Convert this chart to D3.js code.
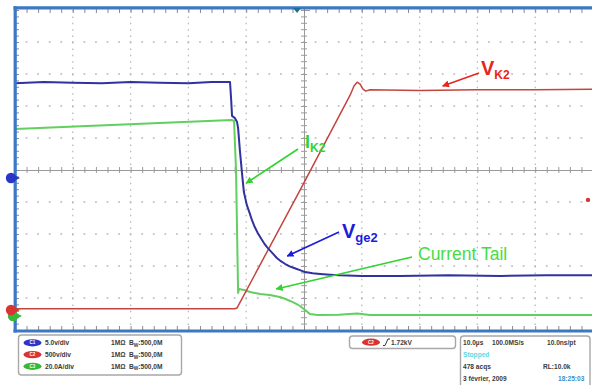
<!DOCTYPE html>
<html>
<head>
<meta charset="utf-8">
<script src="https://cdn.jsdelivr.net/npm/d3@7"></script>
<style>
  html, body { margin: 0; padding: 0; background: #fff; }
  svg { display: block; font-family: "Liberation Sans", Arial, sans-serif; }
</style>
</head>
<body>
<svg id="scope" width="592" height="385"></svg>
<script>
// ---- Acquisition: time in µs (10 µs/div), channel values in physical units ----
// CH1  gate voltage Vge2 (V)
const ch1Time  = [-50, -45, -40, -35, -30, -25, -20, -16, -12.8, -12.6, -12.45, -12.0, -11.6, -11.4, -11.1, -10.7, -10.4, -9.9, -9.4, -9.0, -8.5, -8.0, -7.4, -6.9, -6.4, -5.9, -5.3, -4.7, -4.0, -3.3, -2.5, -1.6, -0.7, 0.2, 1.5, 2.8, 4.5, 6.2, 10, 16.6, 25, 34, 42, 50];
const ch1Volts = [14.8, 15.0, 14.9, 14.8, 15.0, 14.9, 14.8, 15.0, 15.0, 12.2, 9.7, 9.4, 8.8, 7.8, 4.4, 0.5, -2.2, -4.2, -5.5, -6.6, -7.7, -8.6, -9.5, -10.2, -10.8, -11.3, -11.9, -12.5, -13.0, -13.4, -13.8, -14.1, -14.4, -14.7, -14.9, -15.0, -15.1, -15.2, -15.3, -15.3, -15.2, -15.3, -15.2, -15.2];

// CH2  collector voltage VK2 (kV)
const ch2Time = [-50, -30, -12, -11.6, -0.7, 8.0, 8.65, 9.2, 9.7, 10.2, 10.7, 11.4, 20, 30, 40, 50];
const ch2KV   = [0.02, 0.02, 0.02, 0.03, 1.87, 3.36, 3.50, 3.56, 3.53, 3.45, 3.42, 3.44, 3.43, 3.44, 3.44, 3.45];

// CH3  collector current IK2 (A)
const ch3Time = [-50, -12.5, -12.1, -11.76, -11.4, -11.25, -10.4, -9.3, -7.6, -5.9, -4.2, -3.3, -2.4, -1.5, -0.7, 0.2, 1.0, 2.4, 6, 9.2, 11.4, 30, 50];
const ch3Amps = [116.9, 122.5, 121.9, 91.3, 14.4, 16.9, 16.3, 15.0, 13.75, 13.1, 11.9, 10.8, 9.4, 7.9, 6.25, 3.75, 1.25, 0.6, 0.8, 1.6, 0.6, 0.6, 0.6];

// Vertical settings: units per division and ground offset in divisions
const channelNames   = ["C1", "C2", "C3"];
const channelScales  = [5.0, 0.5, 20.0];          // V/div, kV/div, A/div
const channelOffsets = [-0.25, -4.375, -4.5625];  // ground position (div)
const channelLabels  = ["5.0v/div", "500v/div", "20.0A/div"];
const channelInput   = "1MΩ";
const channelBw      = "500,0M";

// Trigger
const triggerTime  = -1.2;   // µs
const triggerLevel = 1.72;   // kV on CH2
const triggerLabel = "1.72kV";

// Acquisition readout
const timebaseText = ["10.0µs", "100.0MS/s", "10.0ns/pt"];
const statusText   = "Stopped";
const acqText      = ["478 acqs", "RL:10.0k"];
const dateText     = ["3 février, 2009", "18:25:03"];

// ---- Colours ----
const traceColors = ["#31319f", "#c4443f", "#62cf5e"];
const pillColors  = ["#2936c8", "#d93434", "#37b837"];
const frameColor  = "#3d78c6";

const svg = d3.select("#scope");

// ---- Scales ----
const x = d3.scaleLinear().domain([-50, 50]).range([15, 593]);
const yDiv = d3.scaleLinear().domain([-5, 5]).range([330, 10]);
const yCh = i => v => yDiv(v / channelScales[i] + channelOffsets[i]);

// ---- Graticule ----
const grid = svg.append("g");
const divTimes = d3.range(-40, 41, 10).filter(d => d !== 0);
const divRows = d3.range(-4, 5).filter(d => d !== 0);
const minorX = (x(2) - x(0));
const minorY = (yDiv(0) - yDiv(0.2));

grid.selectAll("line.v").data(divTimes).join("line")
  .attr("x1", d => x(d)).attr("x2", d => x(d))
  .attr("y1", yDiv(5)).attr("y2", yDiv(-5))
  .attr("stroke", "#b8b8b8").attr("stroke-width", 1.3)
  .attr("stroke-dasharray", `1.5 ${minorY - 1.5}`);

grid.selectAll("line.h").data(divRows).join("line")
  .attr("x1", x(-50)).attr("x2", x(50))
  .attr("y1", d => yDiv(d)).attr("y2", d => yDiv(d))
  .attr("stroke", "#b8b8b8").attr("stroke-width", 1.3)
  .attr("stroke-dasharray", `1.8 ${minorX - 1.8}`)
  .attr("stroke-dashoffset", 0.9);

// centre cross with minor ticks
const minorTimes = d3.range(-50, 50.01, 2);
const minorDivs = d3.range(-5, 5.001, 0.2);
const hAxis = d3.axisBottom(x).tickValues(minorTimes).tickSize(6).tickFormat("");
const vAxis = d3.axisRight(yDiv).tickValues(minorDivs).tickSize(6).tickFormat("");

const cx = svg.append("g").attr("transform", `translate(0,${yDiv(0) - 3})`).call(hAxis);
cx.select(".domain").attr("transform", "translate(0,3)");
const cy = svg.append("g").attr("transform", `translate(${x(0) - 3},0)`).call(vAxis);
cy.select(".domain").attr("transform", "translate(3,0)");
[cx, cy].forEach(g => {
  g.select(".domain").attr("stroke", "#9a9a9a").attr("stroke-width", 1).attr("fill", "none");
  g.selectAll(".tick line").attr("stroke", "#9a9a9a").attr("stroke-width", 1);
});

// edge ticks along the frame
const topTicks = svg.append("g").attr("transform", `translate(0,${yDiv(5) - 1})`)
  .call(d3.axisBottom(x).tickValues(minorTimes).tickSize(4).tickFormat(""));
const botTicks = svg.append("g").attr("transform", `translate(0,${yDiv(-5)})`)
  .call(d3.axisTop(x).tickValues(minorTimes).tickSize(4).tickFormat(""));
const leftTicks = svg.append("g").attr("transform", `translate(${x(-50)},0)`)
  .call(d3.axisRight(yDiv).tickValues(minorDivs).tickSize(4).tickFormat(""));
[topTicks, botTicks, leftTicks].forEach(g => {
  g.select(".domain").remove();
  g.selectAll(".tick line").attr("stroke", "#8a8a8a").attr("stroke-width", 1);
});

// ---- Traces ----
const traces = [
  { t: ch3Time, v: ch3Amps, ch: 2, w: 2.0 },
  { t: ch2Time, v: ch2KV,   ch: 1, w: 1.5 },
  { t: ch1Time, v: ch1Volts, ch: 0, w: 2.0 }
];
traces.forEach(tr => {
  const ys = yCh(tr.ch);
  const line = d3.line().x(i => x(tr.t[i])).y(i => ys(tr.v[i]));
  svg.append("path")
    .attr("d", line(d3.range(tr.t.length)))
    .attr("fill", "none")
    .attr("stroke", traceColors[tr.ch])
    .attr("stroke-width", tr.w)
    .attr("stroke-linejoin", "round");
});

// ---- Frame ----
const frame = svg.append("g").attr("stroke", frameColor).attr("stroke-width", 3.2);
frame.append("line").attr("x1", 13.5).attr("x2", 592).attr("y1", 7.8).attr("y2", 7.8);
frame.append("line").attr("x1", 13.5).attr("x2", 592).attr("y1", 331).attr("y2", 331);
frame.append("line").attr("x1", 15.2).attr("x2", 15.2).attr("y1", 6.2).attr("y2", 332.6);

// ---- Ground markers ----
const markers = svg.append("g");
[2, 1, 0].forEach(ch => {
  const gy = yDiv(channelOffsets[ch]);
  const mx = ch === 2 ? 13 : 11;
  markers.append("path")
    .attr("d", `M${mx + 3},${gy - 3} L${mx + 9},${gy} L${mx + 3},${gy + 3} Z`)
    .attr("fill", pillColors[ch]);
  markers.append("circle").attr("cx", mx).attr("cy", gy).attr("r", 5.2).attr("fill", pillColors[ch]);
});

// trigger position (top) and trigger level (right)
svg.append("path")
  .attr("d", `M${x(triggerTime) - 4},8 L${x(triggerTime) + 4},8 L${x(triggerTime)},13 Z`)
  .attr("fill", "#1d7190");
svg.append("circle").attr("cx", 588).attr("cy", yCh(1)(triggerLevel)).attr("r", 2.2).attr("fill", "#d93434");

// ---- Annotations ----
const defs = svg.append("defs");
const arrowColor = { red: "#e8261c", green: "#2fd42f", blue: "#1c1cdc" };
Object.entries(arrowColor).forEach(([k, c]) => {
  defs.append("marker").attr("id", "ah-" + k)
    .attr("viewBox", "0 0 10 10").attr("refX", 9).attr("refY", 5)
    .attr("markerWidth", 7).attr("markerHeight", 7).attr("markerUnits", "userSpaceOnUse")
    .attr("orient", "auto")
    .append("path").attr("d", "M0,0 L10,5 L0,10 Z").attr("fill", c);
});

const annotations = [
  { from: [479, 73],  tip: { t: 24.0,  ch: 1, v: 3.50 }, color: "red" },
  { from: [298, 149], tip: { t: -10.0, ch: 2, v: 83 },   color: "green" },
  { from: [339, 232], tip: { t: -2.9,  ch: 0, v: -12.2 }, color: "blue" },
  { from: [412, 257], tip: { t: -4.8,  ch: 2, v: 16.9 }, color: "green" }
];
annotations.forEach(a => {
  svg.append("line")
    .attr("x1", a.from[0]).attr("y1", a.from[1])
    .attr("x2", x(a.tip.t)).attr("y2", yCh(a.tip.ch)(a.tip.v))
    .attr("stroke", arrowColor[a.color]).attr("stroke-width", 1.6)
    .attr("marker-end", `url(#ah-${a.color})`);
});

function subLabel(px, py, main, sub, color, mainSize, subSize, dy) {
  const t = svg.append("text").attr("x", px).attr("y", py)
    .attr("fill", color).attr("font-weight", "bold");
  t.append("tspan").attr("font-size", mainSize).text(main);
  t.append("tspan").attr("font-size", subSize).attr("dy", dy).text(sub);
}
subLabel(481, 75, "V", "K2", arrowColor.red, 20, 12, 3.5);
subLabel(305, 148, "I", "K2", arrowColor.green, 18, 12, 4);
subLabel(342, 238, "V", "ge2", arrowColor.blue, 20, 13, 4);
svg.append("text").attr("x", 418).attr("y", 260)
  .attr("font-size", 17.5).attr("fill", "#45dc45").text("Current Tail");

// ---- Readout panels ----
const panel = svg.append("g").attr("font-size", 6.6).attr("font-weight", "bold").attr("fill", "#3a3a3a");
function box(x0, y0, w, h) {
  panel.append("rect").attr("x", x0).attr("y", y0).attr("width", w).attr("height", h)
    .attr("rx", 3).attr("fill", "#fff").attr("stroke", "#a8a8a8").attr("stroke-width", 1.4);
}
function pill(cx0, cy0, color, label) {
  panel.append("ellipse").attr("cx", cx0).attr("cy", cy0).attr("rx", 9).attr("ry", 3.6).attr("fill", color);
  panel.append("text").attr("x", cx0).attr("y", cy0 + 1.5).attr("text-anchor", "middle")
    .attr("font-size", 4.5).attr("fill", "#fff").text(label);
}

// channel settings
box(18.5, 335, 163, 40);
const rowY = [342.8, 354.6, 366.3];
channelNames.forEach((n, i) => {
  pill(32.5, rowY[i], pillColors[i], n);
  panel.append("text").attr("x", 45).attr("y", rowY[i] + 2.5).text(channelLabels[i]);
  panel.append("text").attr("x", 111).attr("y", rowY[i] + 2.5).text(channelInput);
  const bw = panel.append("text").attr("x", 129).attr("y", rowY[i] + 2.5);
  bw.append("tspan").text("B");
  bw.append("tspan").attr("font-size", 4.8).attr("dy", 1.5).text("W");
  bw.append("tspan").attr("dy", -1.5).text(":" + channelBw);
});

// trigger
box(349.5, 336, 106, 12.5);
pill(371, 342.2, pillColors[1], channelNames[1]);
panel.append("path").attr("d", "M383,345.5 L385,345.5 L388,339 L390,339")
  .attr("fill", "none").attr("stroke", "#333").attr("stroke-width", 1);
panel.append("text").attr("x", 391).attr("y", 344.8).text(triggerLabel);

// acquisition
box(460.5, 336, 129.5, 60);
panel.append("text").attr("x", 463).attr("y", 344.5).text(timebaseText[0]);
panel.append("text").attr("x", 492).attr("y", 344.5).text(timebaseText[1]);
panel.append("text").attr("x", 547).attr("y", 344.5).text(timebaseText[2]);
panel.append("text").attr("x", 463).attr("y", 356.5).attr("fill", "#5fd8e0").text(statusText);
panel.append("text").attr("x", 463).attr("y", 368.5).text(acqText[0]);
panel.append("text").attr("x", 543).attr("y", 368.5).text(acqText[1]);
panel.append("text").attr("x", 463).attr("y", 380.5).text(dateText[0]);
panel.append("text").attr("x", 558).attr("y", 380.5).attr("fill", "#3a8fd0").text(dateText[1]);
</script>
</body>
</html>
